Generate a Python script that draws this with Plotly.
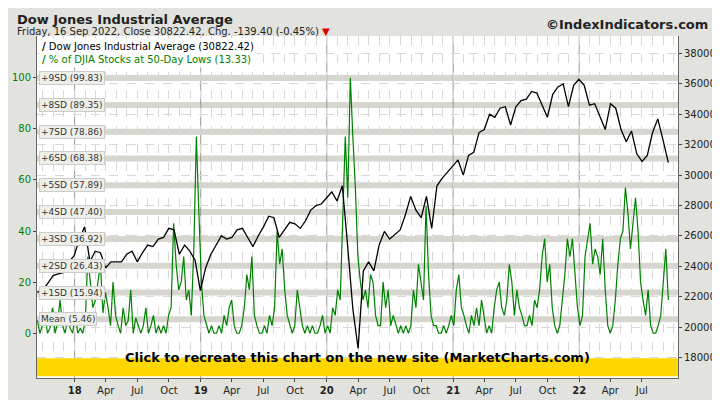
import pandas as pd
import plotly.graph_objects as go

# DJIA, two readings per month from Sep 2017
djia = [22300, 22400, 22900, 23400, 23500, 23600, 24300, 24700,
        25800, 26600, 24300, 25000, 24900, 23900, 24300, 24300, 24300, 24800, 25000, 24300,
        24900, 25400, 25300, 25800, 25900, 26500, 26400, 24800, 25400, 25000, 24400, 22400,
        23900, 24800, 25400, 26000, 25800, 25900, 26400, 26500, 25900, 25300, 26000, 26600,
        27300, 27200, 25900, 26400, 26900, 26800, 26500, 27000, 27700, 28000, 28100, 28500,
        28900, 28300, 29300, 25400, 21200, 18600, 23700, 24300, 23700, 25400, 26300, 25800,
        26100, 26400, 27400, 28600, 27700, 27200, 28600, 26500, 29300, 29800, 30200, 30600,
        31000, 30000, 31300, 31500, 32800, 33000, 34000, 33800, 34400, 34500, 33300, 34500,
        34900, 35000, 35500, 35400, 34600, 33800, 35300, 35800, 36000, 34500, 35900, 36300,
        35900, 34600, 34700, 33900, 33000, 34700, 34400, 33000, 32200, 32900, 31400, 30900,
        31300, 32800, 33700, 32300, 30822]

# % of DJIA stocks at 50-day lows, roughly weekly
pct_lows = [5, 0, 3, 8, 0, 2, 10, 0, 4, 13, 3, 0, 6, 2, 0, 8,
            0, 2, 0, 5, 30, 20, 10, 13, 20, 27, 8, 16, 10, 3, 20, 7, 3, 0, 10, 3, 5, 17, 0, 6,
            3, 0, 3, 10, 0, 3, 7, 0, 3, 0, 3, 0, 7, 10, 43, 27, 17, 20, 30, 13, 17, 7, 33, 77, 47, 20,
            7, 3, 0, 3, 0, 0, 3, 0, 7, 3, 10, 13, 3, 0, 0, 3, 10, 23, 17, 30, 7, 3, 0, 0,
            3, 0, 7, 3, 10, 40, 27, 33, 17, 7, 3, 0, 3, 17, 10, 3, 0, 3, 0, 3, 0, 0, 3, 7, 0, 3,
            0, 10, 7, 17, 13, 43, 77, 53, 100, 77, 57, 30, 20, 13, 17, 10, 23, 20, 7, 3, 3, 20, 10, 17,
            3, 7, 3, 0, 3, 0, 3, 0, 3, 17, 10, 27, 20, 13, 50, 23, 7, 3, 3, 0, 0, 3, 0, 3, 7, 3,
            17, 23, 10, 7, 3, 0, 7, 3, 10, 3, 13, 7, 0, 3, 0, 10, 17, 20, 10, 7, 13, 27, 20, 7,
            17, 10, 7, 3, 3, 7, 3, 13, 10, 17, 30, 37, 20, 27, 10, 3, 0, 3, 13, 23, 37, 30, 37, 23, 10, 3,
            7, 30, 37, 43, 27, 33, 30, 23, 37, 17, 3, 0, 3, 13, 27, 37, 40, 57, 47, 33, 43, 53, 40, 20,
            13, 7, 17, 3, 0, 0, 3, 7, 20, 33, 13]

sd_names = ["Mean", "+1SD", "+2SD", "+3SD", "+4SD", "+5SD", "+6SD", "+7SD", "+8SD", "+9SD"]
sd_levels = [5.46, 15.94, 26.43, 36.92, 47.40, 57.89, 68.38, 78.86, 89.35, 99.83]

djia_dates = pd.date_range("2017-09-15", "2022-09-16", periods=len(djia))
pct_dates = pd.date_range("2017-09-15", "2022-09-16", periods=len(pct_lows))

x0, x1 = "2017-09-14", "2022-10-14"

fig = go.Figure()
for name, lvl in zip(sd_names, sd_levels):
    fig.add_shape(type="line", xref="paper", x0=0, x1=1, yref="y", y0=lvl, y1=lvl,
                  line=dict(color="#d6d6ce", width=6), layer="below")
    fig.add_annotation(xref="paper", x=0.003, y=lvl, yref="y", text=f"{name} ({lvl:.2f})",
                       showarrow=False, xanchor="left", font=dict(size=9, color="#333"),
                       bgcolor="#efefea", bordercolor="#ccc", borderwidth=1, borderpad=1)

fig.add_trace(go.Scatter(x=pct_dates, y=pct_lows, mode="lines", line=dict(color="#008000", width=1.2),
                         yaxis="y", showlegend=False))
fig.add_trace(go.Scatter(x=djia_dates, y=djia, mode="lines", line=dict(color="black", width=1.3),
                         yaxis="y2", showlegend=False))

# yearly solid gridlines
for yr in range(2018, 2023):
    fig.add_shape(type="line", x0=f"{yr}-01-01", x1=f"{yr}-01-01", yref="paper", y0=0, y1=1,
                  line=dict(color="#999", width=1), layer="below")

tickvals, ticktext = [], []
for yr in range(2018, 2023):
    for m, lab in [(1, f"<b>{yr % 100}</b>"), (4, "Apr"), (7, "Jul"), (10, "Oct")]:
        d = pd.Timestamp(yr, m, 1)
        if d <= pd.Timestamp("2022-09-30"):
            tickvals.append(d)
            ticktext.append(lab)

fig.add_shape(type="rect", xref="paper", x0=0, x1=1, yref="paper", y0=0.005, y1=0.058,
              fillcolor="#ffd700", line=dict(width=0))
fig.add_annotation(xref="paper", x=0.5, yref="paper", y=0.031, showarrow=False,
                   text="<b>Click to recreate this chart on the new site (MarketCharts.com)</b>",
                   font=dict(size=13, color="black"))

fig.add_annotation(xref="paper", x=0.003, yref="paper", y=0.995, xanchor="left", yanchor="top",
                   showarrow=False, align="left", bgcolor="white", borderpad=2,
                   text="<b>/</b> Dow Jones Industrial Average (30822.42)<br>"
                        "<span style='color:#008000'><b>/</b> % of DJIA Stocks at 50-Day Lows (13.33)</span>",
                   font=dict(size=10, color="black"))

fig.add_annotation(xref="paper", x=-0.035, yref="paper", y=1.075, xanchor="left", showarrow=False,
                   text="<b>Dow Jones Industrial Average</b>", font=dict(size=13, color="#222"))
fig.add_annotation(xref="paper", x=-0.035, yref="paper", y=1.035, xanchor="left", showarrow=False,
                   text="Friday, 16 Sep 2022, Close 30822.42, Chg. -139.40 (-0.45%) <span style='color:#d00'>▼</span>",
                   font=dict(size=10, color="#222"))
fig.add_annotation(xref="paper", x=1.05, yref="paper", y=1.06, xanchor="right", showarrow=False,
                   text="<b>©IndexIndicators.com</b>", font=dict(size=13, color="#222"))

fig.update_layout(
    width=720, height=400, margin=dict(l=29, r=42, t=28, b=20),
    paper_bgcolor="#e2e2de", plot_bgcolor="white",
    font=dict(family="DejaVu Sans", size=10),
    xaxis=dict(range=[x0, x1], tickvals=tickvals, ticktext=ticktext, ticks="outside", ticklen=3,
               showgrid=False, showline=True, linecolor="#666", tickfont=dict(size=10, color="#222"),
               minor=dict(dtick="M1", showgrid=True, gridcolor="#d8d8d8", griddash="dash")),
    yaxis=dict(range=[-17.5, 116.3], tickvals=[0, 20, 40, 60, 80, 100], showgrid=False, zeroline=False,
               tickfont=dict(color="#008000", size=10), ticks="outside", ticklen=3, automargin=False,
               showline=True, linecolor="#666"),
    yaxis2=dict(range=[16660, 39150], overlaying="y", side="right", dtick=2000, showgrid=True,
                tickformat="d",
                gridcolor="#d8d8d8", griddash="dash", tickfont=dict(color="#222", size=10),
                ticks="outside", ticklen=3, showline=True, linecolor="#666", zeroline=False),
)
fig.write_html("out.html")
